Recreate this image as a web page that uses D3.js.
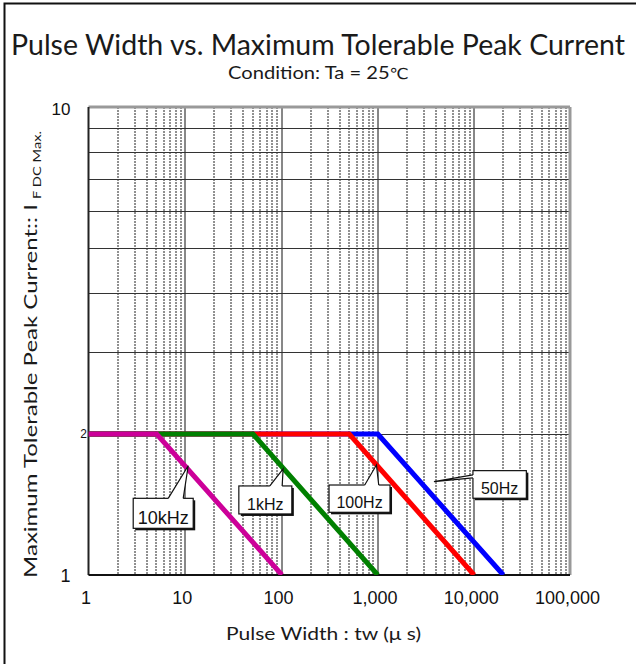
<!DOCTYPE html>
<html>
<head>
<meta charset="utf-8">
<script src="https://cdn.jsdelivr.net/npm/d3@7"></script>
<style>
  body { margin: 0; background: #fff; }
  .ttl { font-family: Lato, "Open Sans", sans-serif; font-weight: 400; fill: #1a1a1a; }
  .num { font-family: "Liberation Sans", Arial, sans-serif; fill: #111; }
</style>
</head>
<body>
<div id="chart"></div>
<script>
// Data
const xTicks = [1, 10, 100, 1000, 10000, 100000];
const yTicks = [1, 2, 10];
const series = ["10kHz", "1kHz", "100Hz", "50Hz"];
const colors = ["#cc0099", "#008000", "#ff0000", "#0000ff"];
const pulse10k = [1, 5.1, 102],   peak10k = [2, 2, 1];
const pulse1k  = [1, 51, 1010],   peak1k  = [2, 2, 1];
const pulse100 = [1, 510, 10100], peak100 = [2, 2, 1];
const pulse50  = [1, 1010, 20300], peak50 = [2, 2, 1];
// callout anchor points (pulse, current)
const calloutAt = [[10.85, 1.712], [105, 1.685], [977, 1.718], [3865, 1.583]];

const W = 636, H = 664;
const margin = {top: 107, right: 66, bottom: 89, left: 88.5},
    width = W - margin.left - margin.right,
    height = H - margin.top - margin.bottom;

const svg = d3.select("#chart")
  .append("svg")
    .attr("width", W)
    .attr("height", H);

// outer frame (right/bottom edges run off the picture)
svg.append("rect")
    .attr("x", 4.5).attr("y", 3.5)
    .attr("width", W + 10).attr("height", H + 10)
    .attr("fill", "none").attr("stroke", "#111").attr("stroke-width", 2);

const g = svg.append("g")
    .attr("transform", `translate(${margin.left},${margin.top})`);

const x = d3.scaleLog().domain([1, 100000]).range([0, width]);
const y = d3.scaleLog().domain([1, 10]).range([height, 0]);

// vertical grid: minors dotted, decades solid
const minors = [];
xTicks.slice(0, -1).forEach(d => { for (let k = 2; k <= 9; k++) minors.push(d * k); });
g.selectAll(".vminor").data(minors).join("line")
    .attr("x1", d => Math.round(x(d)) + 0.5).attr("x2", d => Math.round(x(d)) + 0.5)
    .attr("y1", 0).attr("y2", height)
    .attr("stroke", "#222").attr("stroke-width", 1).attr("stroke-dasharray", "2,1");
g.selectAll(".vmajor").data(xTicks.slice(1, -1)).join("line")
    .attr("x1", d => Math.round(x(d)) + 0.5).attr("x2", d => Math.round(x(d)) + 0.5)
    .attr("y1", 0).attr("y2", height)
    .attr("stroke", "#111").attr("stroke-width", 1);

// horizontal grid 2..9
g.selectAll(".hgrid").data(d3.range(2, 10)).join("line")
    .attr("x1", 0).attr("x2", width)
    .attr("y1", d => Math.round(y(d)) + 0.5).attr("y2", d => Math.round(y(d)) + 0.5)
    .attr("stroke", "#333").attr("stroke-width", 1);

// frame of the plot: top/right grey, left/bottom black
g.append("line").attr("x1", 0).attr("x2", width).attr("y1", 0).attr("y2", 0)
    .attr("stroke", "#999").attr("stroke-width", 3);
g.append("line").attr("x1", width).attr("x2", width).attr("y1", 0).attr("y2", height)
    .attr("stroke", "#999").attr("stroke-width", 3);
g.append("line").attr("x1", 0).attr("x2", 0).attr("y1", 0).attr("y2", height)
    .attr("stroke", "#222").attr("stroke-width", 2);
g.append("line").attr("x1", 0).attr("x2", width).attr("y1", height).attr("y2", height)
    .attr("stroke", "#111").attr("stroke-width", 2);

// curves
g.append("clipPath").attr("id", "plot")
  .append("rect").attr("width", width).attr("height", height);

const rows = [
  {name: series[0], color: colors[0], xs: pulse10k, ys: peak10k},
  {name: series[1], color: colors[1], xs: pulse1k,  ys: peak1k},
  {name: series[2], color: colors[2], xs: pulse100, ys: peak100},
  {name: series[3], color: colors[3], xs: pulse50,  ys: peak50}
];
const line = d3.line().x(d => x(d[0])).y(d => y(d[1]));

g.append("g").attr("clip-path", "url(#plot)")
  .selectAll("path").data(rows.slice().reverse()).join("path")
    .attr("d", d => line(d.xs.map((v, i) => [v, d.ys[i]])))
    .attr("fill", "none")
    .attr("stroke", d => d.color)
    .attr("stroke-width", 5)
    .attr("stroke-linejoin", "miter");

// callouts: box offsets relative to the anchor, pointer base points
const callLayout = [
  {dx: -55,   dy: 32.6, w: 60, h: 30,   base: [[-20, 32.6], [-5, 32.6]],   inward: [0, 1.5], fs: 18},
  {dx: -44.3, dy: 17,   w: 53, h: 28,   base: [[-13.3, 17], [-1, 17]],     inward: [0, 1.5], fs: 16},
  {dx: -47.4, dy: 20,   w: 61, h: 27.3, base: [[-11.7, 20], [2.3, 20]],    inward: [0, 1.5], fs: 16},
  {dx: 39,    dy: -11,  w: 53.4, h: 27.6, base: [[39, -6.7], [39, -3.7]],  inward: [1.5, 0], fs: 16}
];

const calls = g.append("g").selectAll("g").data(series).join("g")
    .attr("transform", (d, i) => `translate(${x(calloutAt[i][0])},${y(calloutAt[i][1])})`);

calls.append("rect")
    .attr("x", (d, i) => callLayout[i].dx + 2).attr("y", (d, i) => callLayout[i].dy + 2)
    .attr("width", (d, i) => callLayout[i].w).attr("height", (d, i) => callLayout[i].h)
    .attr("fill", "#111");
calls.append("rect")
    .attr("x", (d, i) => callLayout[i].dx).attr("y", (d, i) => callLayout[i].dy)
    .attr("width", (d, i) => callLayout[i].w).attr("height", (d, i) => callLayout[i].h)
    .attr("fill", "#fff").attr("stroke", "#111").attr("stroke-width", 1.2);
calls.append("path")
    .attr("d", (d, i) => {
      const c = callLayout[i], [b1, b2] = c.base, [ix, iy] = c.inward;
      return `M${b1[0]},${b1[1]}L0,0L${b2[0]},${b2[1]}L${b2[0] + ix},${b2[1] + iy}L${b1[0] + ix},${b1[1] + iy}Z`;
    })
    .attr("fill", "#fff");
calls.append("path")
    .attr("d", (d, i) => {
      const [b1, b2] = callLayout[i].base;
      return `M${b1[0]},${b1[1]}L0,0L${b2[0]},${b2[1]}`;
    })
    .attr("fill", "none").attr("stroke", "#111").attr("stroke-width", 1.2);
calls.append("text")
    .attr("class", "num")
    .attr("x", (d, i) => callLayout[i].dx + callLayout[i].w / 2)
    .attr("y", (d, i) => callLayout[i].dy + callLayout[i].h - 4)
    .attr("text-anchor", "middle")
    .style("font-size", (d, i) => callLayout[i].fs + "px")
    .text(d => d);

// x axis labels
g.append("g")
    .attr("transform", `translate(-3,${height})`)
    .call(d3.axisBottom(x).tickValues(xTicks).tickFormat(d3.format(",")).tickSize(0).tickPadding(16))
    .call(a => a.select(".domain").remove())
    .selectAll("text")
      .attr("class", "num")
      .style("font-size", "18px")
      .style("font-family", "'Liberation Sans', Arial, sans-serif")
      .attr("fill", "#111");

// y axis labels (placed individually as in the original)
const yLab = [
  {dx: -23, dy: 7,  fs: 18, anchor: "middle"},
  {dx: -1.5, dy: 4, fs: 12, anchor: "end"},
  {dx: -18, dy: 8,  fs: 17, anchor: "end"}
];
g.selectAll(".ylab").data(yTicks).join("text")
    .attr("class", "num")
    .attr("x", (d, i) => yLab[i].dx)
    .attr("y", (d, i) => y(d) + yLab[i].dy)
    .attr("text-anchor", (d, i) => yLab[i].anchor)
    .style("font-size", (d, i) => yLab[i].fs + "px")
    .text(d => d);

// titles
svg.append("text").attr("class", "ttl")
    .attr("x", 11).attr("y", 55)
    .attr("textLength", 614).attr("lengthAdjust", "spacingAndGlyphs")
    .style("font-size", "28px")
    .text("Pulse Width vs. Maximum Tolerable Peak Current");
const sub = svg.append("text").attr("class", "ttl")
    .attr("x", 228).attr("y", 79)
    .attr("textLength", 181).attr("lengthAdjust", "spacingAndGlyphs")
    .style("font-size", "17.5px");
sub.append("tspan").text("Condition: Ta = 25");
sub.append("tspan").style("font-family", "'DejaVu Sans', sans-serif").style("font-size", "15px").text("℃");
svg.append("text").attr("class", "ttl")
    .attr("x", 226).attr("y", 640)
    .attr("textLength", 195).attr("lengthAdjust", "spacingAndGlyphs")
    .style("font-size", "18px")
    .text("Pulse Width : tw (μ  s)");

// y axis title with subscript
svg.append("text").attr("class", "ttl")
    .attr("transform", "translate(37,578) rotate(-90)")
    .attr("textLength", 374).attr("lengthAdjust", "spacingAndGlyphs")
    .style("font-size", "17px")
    .text("Maximum Tolerable Peak Current:: I");
svg.append("text").attr("class", "ttl")
    .attr("transform", "translate(41,199) rotate(-90)")
    .attr("textLength", 68).attr("lengthAdjust", "spacingAndGlyphs")
    .style("font-size", "11px")
    .text("F DC Max.");
</script>
</body>
</html>
